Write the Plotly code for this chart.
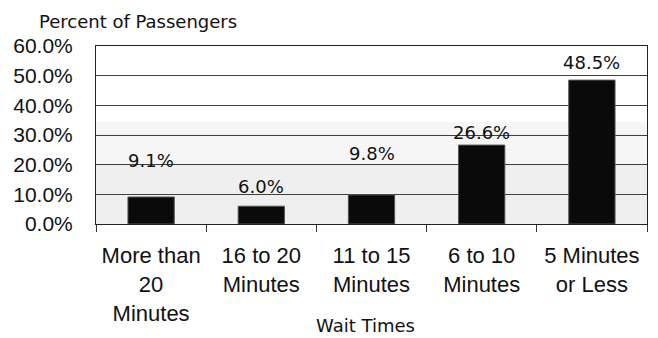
import plotly.graph_objects as go

# Share of passengers by wait time
categories = ["More than<br>20<br>Minutes", "16 to 20<br>Minutes", "11 to 15<br>Minutes",
              "6 to 10<br>Minutes", "5 Minutes<br>or Less"]
percent = [9.1, 6.0, 9.8, 26.6, 48.5]
# height (in axis percent) at which each value label sits
label_heights = [21.5, 12.5, 23.9, 31.0, 54.5]
y_ticks = [0, 10, 20, 30, 40, 50, 60]
y_tick_text = [f"{v:.1f}%" for v in y_ticks]

TICK_FONT = dict(family="Liberation Sans, Arial, sans-serif", size=21, color="#111111")
XTICK_FONT = dict(family="Liberation Sans, Arial, sans-serif", size=22, color="#111111")
LABEL_FONT = dict(family="DejaVu Sans, sans-serif", size=18, color="#111111")

fig = go.Figure()
fig.add_trace(go.Bar(
    x=categories, y=percent, width=0.42,
    marker=dict(color="#0a0a0a", line=dict(color="#555555", width=1)),
    hoverinfo="skip",
))

for cat, val, h in zip(categories, percent, label_heights):
    fig.add_annotation(x=cat, y=h, text=f"{val:.1f}%", showarrow=False,
                       font=LABEL_FONT, xanchor="center", yanchor="middle")

# shaded background bands
fig.add_shape(type="rect", xref="paper", yref="y", x0=0, x1=1, y0=0, y1=20,
              fillcolor="#efefef", line_width=0, layer="below")
fig.add_shape(type="rect", xref="paper", yref="y", x0=0, x1=1, y0=20, y1=34.4,
              fillcolor="#f6f6f6", line_width=0, layer="below")

fig.add_annotation(xref="paper", yref="paper", x=-0.107, y=1.0, yshift=12,
                   text="Percent of Passengers", showarrow=False,
                   font=LABEL_FONT, xanchor="left", yanchor="bottom")
fig.add_annotation(xref="paper", yref="paper", x=0.49, y=0, yshift=-101,
                   text="Wait Times", showarrow=False,
                   font=LABEL_FONT, xanchor="center", yanchor="middle")

fig.update_layout(
    width=658, height=338,
    margin=dict(l=96, r=11, t=46, b=114),
    paper_bgcolor="white", plot_bgcolor="rgba(0,0,0,0)",
    showlegend=False,
    bargap=0.58,
)
fig.update_xaxes(
    tickfont=XTICK_FONT, tickson="boundaries", ticks="outside", ticklen=7,
    tickcolor="#333333", showline=True, linecolor="#222222", linewidth=1,
    mirror=True, showgrid=False, fixedrange=True, ticklabelstandoff=12,
)
fig.update_yaxes(
    range=[0, 60], tickvals=y_ticks, ticktext=y_tick_text, tickfont=TICK_FONT,
    showgrid=True, gridcolor="#404040", gridwidth=1,
    showline=True, linecolor="#222222", linewidth=1, mirror=True,
    ticks="", ticklabelstandoff=18, zeroline=False, fixedrange=True,
)

fig.write_html("out.html")
